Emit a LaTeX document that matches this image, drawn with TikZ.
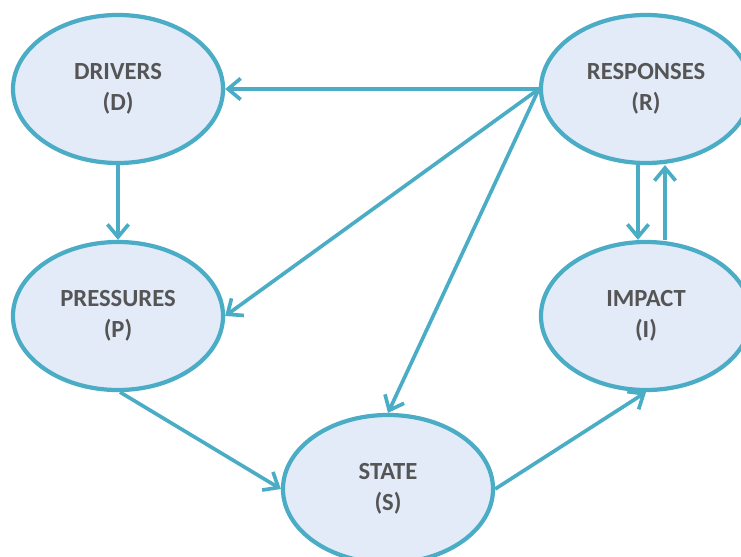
\documentclass[tikz,border=0pt]{standalone}
\usepackage{fontspec}
\setmainfont{Carlito}
\usetikzlibrary{arrows.meta, shapes.geometric, positioning}
\definecolor{rim}{HTML}{4BACC6}
\definecolor{blobfill}{HTML}{E3EBF9}
\definecolor{inkgray}{HTML}{555555}
\tikzset{
  blob/.style = {ellipse, draw=rim, fill=blobfill, line width=3pt,
    minimum width=5.25cm, minimum height=3.7cm, inner sep=0pt,
    align=center, text=inkgray, font=\fontsize{17.5}{22}\selectfont\bfseries},
  link/.style = {draw=rim, line width=2.6pt}
}

\begin{document}
\begin{tikzpicture}[x=0.025cm, y=-0.025cm, >={Straight Barb[length=9pt,width=15pt]}]
\clip (0,0) rectangle (741,557);
\node [blob] (D) at (118,89) {DRIVERS\\(D)};
\node [blob] (R) at (646,89) {RESPONSES\\(R)};
\node [blob] (P) at (118,316) {PRESSURES\\(P)};
\node [blob] (I) at (646,316) {IMPACT\\(I)};
\node [blob] (S) at (388,489) {STATE\\(S)};
% arrows out of responses
\draw [link,->] (R.west) -- (D.east);
\draw [link,->] (R.west) -- (P.east);
\draw [link,->] (R.west) -- (S.north);
% chain
\draw [link,->] ([xshift=0.05cm]P.south) -- (S.west);
\draw [link,->] (D.south) -- (P.north);
\draw [link,->] (S.east) -- (I.south);
% loop between responses and impact
\draw [link,->] ([xshift=-0.2cm]R.south) -- ([xshift=-0.2cm]I.north);
\draw [link,->] ([xshift=0.475cm]I.north) -- ([xshift=0.475cm]R.south);
\end{tikzpicture}
\end{document}
